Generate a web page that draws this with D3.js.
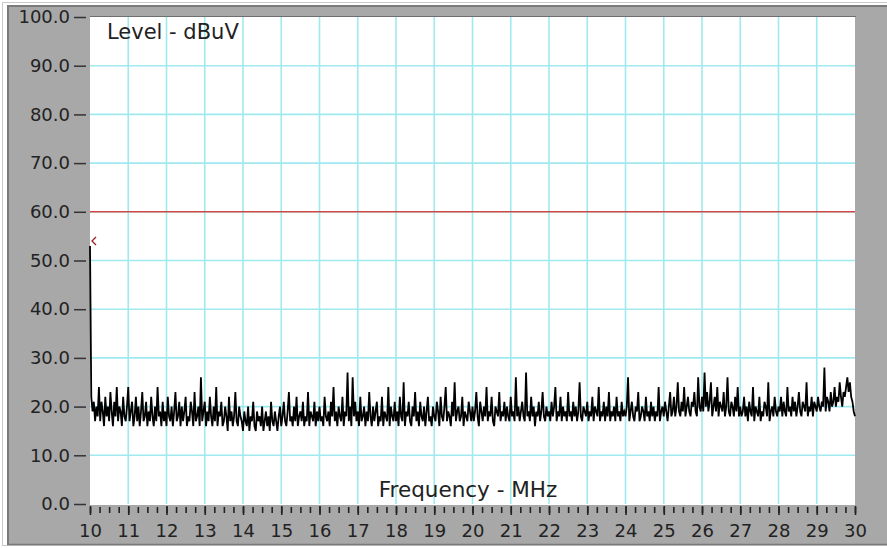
<!DOCTYPE html>
<html>
<head>
<meta charset="utf-8">
<script src="https://cdn.jsdelivr.net/npm/d3@7"></script>
<style>
  body { margin: 0; background: #fff; }
  text { font-family: "DejaVu Sans", sans-serif; }
</style>
</head>
<body>
<svg id="scope"></svg>
<script>

// sweep settings (MHz), 30 points per MHz
var freqStart = 10, freqStop = 30, ptsPerMHz = 30;

// y ticks / x ticks
var levelTicks = [0, 10, 20, 30, 40, 50, 60, 70, 80, 90, 100];
var freqTicks = [10, 11, 12, 13, 14, 15, 16, 17, 18, 19, 20, 21, 22, 23, 24, 25, 26, 27, 28, 29, 30];

// limit line + marker
var limitLevel = 60;
var markerFreq = 10, markerLevel = 54;

// measured trace in dBuV, one row per MHz + last point at 30
var levels = [
  53, 22, 19, 21, 17, 20, 18, 24, 17, 21, 19, 16, 22, 18, 20, 17, 23, 19, 16, 21, 18, 24, 17, 20, 19, 16, 22, 18, 17, 20,
  24, 17, 19, 21, 16, 18, 22, 17, 20, 16, 19, 23, 17, 18, 21, 16, 19, 17, 22, 18, 16, 20, 17, 24, 18, 19, 16, 21, 17, 19,
  16, 22, 18, 17, 20, 16, 19, 23, 17, 18, 21, 16, 20, 17, 19, 22, 16, 18, 17, 21, 19, 16, 23, 17, 18, 20, 16, 26, 17, 19,
  21, 16, 19, 17, 22, 18, 16, 20, 17, 24, 16, 19, 18, 21, 16, 17, 20, 18, 15, 22, 17, 19, 16, 18, 23, 17, 16, 20, 18, 17,
  15, 19, 17, 16, 20, 15, 18, 17, 21, 16, 15, 19, 17, 18, 16, 20, 15, 17, 19, 16, 18, 15, 21, 17, 16, 19, 17, 15, 18, 20,
  16, 18, 21, 17, 16, 19, 23, 17, 18, 16, 20, 17, 22, 16, 18, 19, 17, 21, 16, 18, 17, 23, 16, 19, 18, 17, 21, 16, 19, 17,
  20, 17, 18, 16, 22, 18, 17, 19, 16, 21, 18, 24, 17, 19, 16, 20, 18, 17, 22, 16, 19, 18, 27, 17, 20, 16, 26, 18, 21, 17,
  19, 16, 22, 17, 18, 20, 16, 19, 17, 23, 18, 16, 20, 17, 19, 21, 16, 18, 17, 22, 16, 19, 18, 17, 24, 16, 20, 18, 17, 21,
  17, 19, 16, 22, 18, 17, 25, 16, 19, 18, 21, 17, 16, 20, 18, 23, 17, 19, 16, 21, 18, 17, 20, 16, 19, 22, 17, 18, 16, 20,
  18, 17, 21, 19, 16, 22, 18, 17, 20, 24, 17, 19, 18, 16, 21, 18, 25, 17, 19, 20, 17, 18, 22, 16, 19, 18, 17, 21, 19, 17,
  20, 17, 19, 23, 18, 16, 21, 19, 17, 20, 18, 24, 17, 19, 18, 22, 17, 16, 20, 19, 18, 23, 17, 19, 18, 21, 17, 20, 18, 17,
  22, 18, 19, 17, 26, 18, 20, 17, 19, 21, 18, 17, 27, 18, 19, 17, 22, 18, 20, 16, 19, 18, 21, 17, 19, 23, 18, 17, 20, 18,
  19, 17, 21, 18, 20, 24, 17, 19, 18, 22, 17, 20, 18, 19, 17, 23, 18, 19, 17, 21, 18, 20, 17, 19, 25, 18, 17, 20, 19, 18,
  21, 17, 19, 18, 22, 17, 20, 19, 18, 24, 17, 19, 18, 21, 17, 20, 18, 23, 17, 19, 18, 20, 17, 22, 18, 19, 17, 21, 18, 19,
  18, 20, 26, 17, 19, 21, 18, 17, 20, 19, 23, 17, 18, 20, 19, 17, 22, 18, 19, 17, 21, 18, 20, 17, 19, 18, 24, 17, 19, 20,
  18, 21, 19, 17, 20, 23, 18, 19, 22, 18, 20, 25, 19, 18, 21, 19, 24, 18, 20, 22, 19, 18, 21, 20, 23, 19, 18, 26, 20, 19,
  22, 19, 27, 20, 23, 19, 21, 25, 18, 20, 22, 19, 24, 18, 21, 20, 19, 23, 18, 20, 26, 19, 18, 21, 20, 18, 22, 19, 24, 18,
  20, 18, 19, 22, 18, 20, 17, 21, 19, 18, 24, 17, 20, 19, 18, 22, 17, 19, 18, 21, 20, 18, 25, 17, 19, 20, 18, 22, 19, 18,
  20, 19, 22, 18, 21, 19, 18, 24, 19, 20, 18, 22, 19, 21, 18, 20, 23, 19, 18, 21, 20, 19, 25, 18, 20, 19, 22, 18, 21, 20,
  19, 22, 20, 19, 21, 20, 28, 19, 22, 21, 19, 23, 20, 21, 24, 20, 22, 21, 25, 22, 20, 23, 22, 24, 26, 23, 25, 22, 21, 19,
  18
];

var W = 887, H = 548;
var plot = {left: 90, top: 17, right: 855, bottom: 504};

var svg = d3.select("#scope")
    .attr("width", W)
    .attr("height", H);

// outer frame thing (windows-ish)
svg.append("rect").attr("x", 2.5).attr("y", 2.5).attr("width", W).attr("height", H - 5)
    .attr("fill", "none").attr("stroke", "#c9c9c9");
svg.append("rect").attr("x", 7).attr("y", 5).attr("width", W - 7).attr("height", 540)
    .attr("fill", "#a8a8a8");
svg.append("path").attr("d", "M8," + 545 + "V6H" + W)
    .attr("fill", "none").attr("stroke", "#7a7a7a").attr("stroke-width", 2);
svg.append("line").attr("x1", 7).attr("x2", W).attr("y1", 544.5).attr("y2", 544.5)
    .attr("stroke", "#7a7a7a").attr("stroke-width", 1.5);

var x = d3.scaleLinear()
    .domain([freqStart, freqStop])
    .range([plot.left, plot.right]);

var y = d3.scaleLinear()
    .domain([0, 100])
    .range([plot.bottom, plot.top]);

// white plot area
svg.append("rect")
    .attr("x", plot.left).attr("y", plot.top)
    .attr("width", plot.right - plot.left).attr("height", plot.bottom - plot.top + 1)
    .attr("fill", "#fff");
svg.append("line")
    .attr("x1", plot.left).attr("x2", plot.right + 1)
    .attr("y1", plot.top - 0.5).attr("y2", plot.top - 0.5)
    .attr("stroke", "#6e6e6e");

// grid
var grid = svg.append("g").attr("stroke", "#9fe9ef").attr("stroke-width", 1.6);
grid.selectAll(".vg").data(freqTicks.slice(1, -1)).enter().append("line")
    .attr("x1", function(d) { return x(d); }).attr("x2", function(d) { return x(d); })
    .attr("y1", plot.top).attr("y2", plot.bottom);
grid.selectAll(".hg").data(levelTicks.slice(1, -1)).enter().append("line")
    .attr("x1", plot.left).attr("x2", plot.right)
    .attr("y1", function(d) { return y(d); }).attr("y2", function(d) { return y(d); });

// axes
var yAxis = svg.append("g")
    .attr("transform", "translate(" + (plot.left - 4) + ",0)")
    .call(d3.axisLeft(y).tickValues(levelTicks).tickFormat(d3.format(".1f")).tickSize(12).tickPadding(4));
yAxis.select(".domain").remove();
yAxis.selectAll("line").attr("stroke", "#333").attr("stroke-width", 1.5);
yAxis.selectAll("text").attr("fill", "#222").style("font-size", "18px");

var minorTicks = d3.range(freqStart * 4, freqStop * 4 + 1).map(function(d) { return d / 4; });
var xMinor = svg.append("g")
    .attr("transform", "translate(0," + (plot.bottom + 3) + ")")
    .call(d3.axisBottom(x).tickValues(minorTicks).tickFormat("").tickSize(6));
xMinor.select(".domain").remove();
xMinor.selectAll("line").attr("stroke", "#222").attr("stroke-width", 1.6);

var xAxis = svg.append("g")
    .attr("transform", "translate(0," + (plot.bottom + 2) + ")")
    .call(d3.axisBottom(x).tickValues(freqTicks).tickFormat(d3.format("d")).tickSize(9).tickPadding(9));
xAxis.select(".domain").remove();
xAxis.selectAll("line").attr("stroke", "#222").attr("stroke-width", 1.6);
xAxis.selectAll("text").attr("fill", "#222").style("font-size", "18px");

// limit line
svg.append("line")
    .attr("x1", x(freqStart)).attr("x2", x(freqStop))
    .attr("y1", y(limitLevel)).attr("y2", y(limitLevel))
    .attr("stroke", "#d04848").attr("stroke-width", 1.5);

// trace
var trace = levels.map(function(v, i) { return [freqStart + i / ptsPerMHz, v]; });
var line = d3.line()
    .x(function(d) { return x(d[0]); })
    .y(function(d) { return y(d[1]); });

svg.append("path")
    .datum(trace)
    .attr("fill", "none")
    .attr("stroke", "#000")
    .attr("stroke-width", 1.8)
    .attr("d", line);

// little marker "<"
var mx = x(markerFreq) + 2, my = y(markerLevel);
svg.append("path")
    .attr("d", "M" + (mx + 4) + "," + (my - 4) + "L" + mx + "," + my + "L" + (mx + 4) + "," + (my + 4))
    .attr("fill", "none").attr("stroke", "#a02020").attr("stroke-width", 1.3);

// labels
svg.append("text")
    .attr("x", 107).attr("y", 39)
    .attr("fill", "#222")
    .style("font-size", "21px")
    .text("Level - dBuV");

svg.append("text")
    .attr("x", 468).attr("y", 497)
    .attr("fill", "#222")
    .style("text-anchor", "middle")
    .style("font-size", "21.5px")
    .text("Frequency - MHz");

</script>
</body>
</html>
